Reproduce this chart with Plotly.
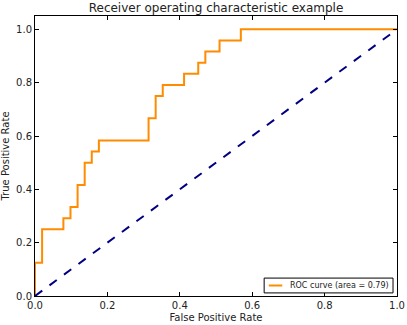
import plotly.graph_objects as go

# ROC curve data
fpr = [0.0, 0.0, 1/51, 1/51, 4/51, 4/51, 5/51, 5/51, 6/51, 6/51, 7/51, 7/51,
       8/51, 8/51, 9/51, 9/51, 16/51, 16/51, 17/51, 17/51, 18/51, 18/51,
       21/51, 21/51, 23/51, 23/51, 24/51, 24/51, 26/51, 26/51, 29/51, 29/51, 1.0]
tpr = [0.0, 3/24, 3/24, 6/24, 6/24, 7/24, 7/24, 8/24, 8/24, 10/24, 10/24, 12/24,
       12/24, 13/24, 13/24, 14/24, 14/24, 16/24, 16/24, 18/24, 18/24, 19/24,
       19/24, 20/24, 20/24, 21/24, 21/24, 22/24, 22/24, 23/24, 23/24, 1.0, 1.0]
diag = [0.0, 1.0]
roc_auc = 0.79
tick_vals = [0.0, 0.2, 0.4, 0.6, 0.8, 1.0]
tick_text = ["0.0", "0.2", "0.4", "0.6", "0.8", "1.0"]
legend_label = f"ROC curve (area = {roc_auc:0.2f})"

fig = go.Figure()
fig.add_trace(go.Scatter(x=fpr, y=tpr, mode="lines",
                         line=dict(color="darkorange", width=2),
                         name=legend_label, showlegend=False))
fig.add_trace(go.Scatter(x=diag, y=diag, mode="lines",
                         line=dict(color="navy", width=2, dash="dash"),
                         showlegend=False))

font = "DejaVu Sans"
axis_common = dict(showline=True, linecolor="black", linewidth=1, mirror="ticks",
                   ticks="inside", ticklen=4, tickcolor="black",
                   showgrid=False, zeroline=False, automargin=False,
                   tickvals=tick_vals, ticktext=tick_text,
                   tickfont=dict(family=font, size=10, color="#222"))

# compact matplotlib-style legend box (lower right)
fig.add_shape(type="rect", xref="paper", yref="paper",
              x0=0.633, x1=0.989, y0=0.011, y1=0.064,
              line=dict(color="black", width=1), fillcolor="white", layer="above")
fig.add_shape(type="line", xref="paper", yref="paper",
              x0=0.646, x1=0.683, y0=0.0375, y1=0.0375,
              line=dict(color="darkorange", width=2), layer="above")
fig.add_annotation(text=legend_label, xref="paper", yref="paper",
                   x=0.698, y=0.0375, xanchor="left", yanchor="middle",
                   showarrow=False,
                   font=dict(family=font, size=8, color="#222"))

fig.update_layout(
    width=407, height=325,
    margin=dict(l=35, r=10, t=16, b=29),
    paper_bgcolor="white", plot_bgcolor="white",
    showlegend=False,
    title=dict(text="Receiver operating characteristic example",
               x=0.5, xanchor="center", xref="paper",
               y=1, yref="paper", yanchor="bottom", pad=dict(b=4),
               font=dict(family=font, size=12, color="#222")),
    xaxis=dict(range=[0, 1.0], title=dict(text="False Positive Rate", standoff=3,
               font=dict(family=font, size=10, color="#222")), **axis_common),
    yaxis=dict(range=[0, 1.05], title=dict(text="True Positive Rate", standoff=4,
               font=dict(family=font, size=10, color="#222")), **axis_common),
    font=dict(family=font),
)

fig.write_html("out.html")
